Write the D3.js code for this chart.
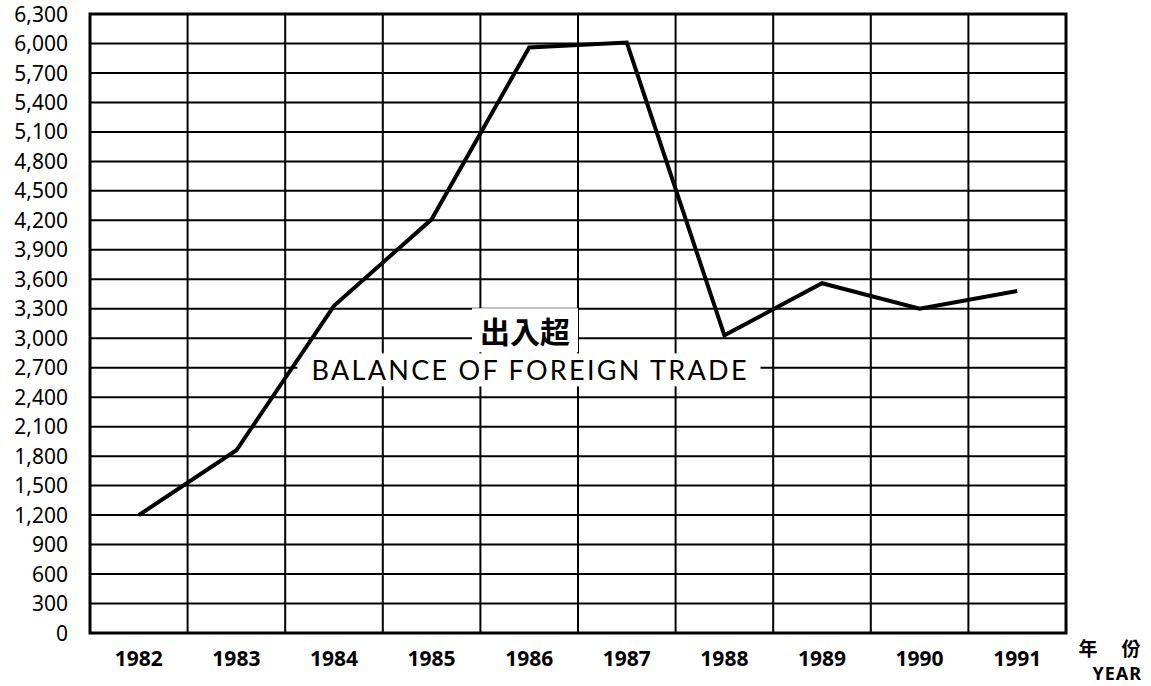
<!DOCTYPE html>
<html>
<head>
<meta charset="utf-8">
<script src="https://cdn.jsdelivr.net/npm/d3@7"></script>
<style>
  body { margin: 0; background: #fff; }
  svg { display: block; }
</style>
</head>
<body>
<div id="plot"></div>
<script>
// data
var years = ['1982', '1983', '1984', '1985', '1986', '1987', '1988', '1989', '1990', '1991'];
var balance = [1200, 1860, 3330, 4210, 5960, 6010, 3030, 3560, 3300, 3480];
var yTicks = d3.range(0, 6301, 300);
var titleZh = '出入超';
var titleEn = 'BALANCE OF FOREIGN TRADE';
var unitZh = ['年', '份'];
var unitEn = 'YEAR';

var svgwidth = 1151, svgheight = 686;
var plotLeft = 90, plotRight = 1066, plotTop = 14, plotBottom = 633;

var svg = d3.select('#plot').append('svg')
    .attr('width', svgwidth)
    .attr('height', svgheight);

var xScale = d3.scaleBand().domain(years).range([plotLeft, plotRight]);
var yScale = d3.scaleLinear().domain([0, 6300]).range([plotBottom, plotTop]);

// horizontal grid
svg.append('g').selectAll('line').data(yTicks).enter().append('line')
    .attr('x1', plotLeft).attr('x2', plotRight)
    .attr('y1', function(d){ return yScale(d); })
    .attr('y2', function(d){ return yScale(d); })
    .style('stroke', '#000').style('stroke-width', 2);

// vertical grid
var xEdges = years.map(function(d){ return xScale(d); }).concat([plotRight]);
svg.append('g').selectAll('line').data(xEdges).enter().append('line')
    .attr('x1', function(d){ return d; }).attr('x2', function(d){ return d; })
    .attr('y1', plotTop).attr('y2', plotBottom)
    .style('stroke', '#000').style('stroke-width', 2);

// frame
svg.append('rect')
    .attr('x', plotLeft).attr('y', plotTop)
    .attr('width', plotRight - plotLeft).attr('height', plotBottom - plotTop)
    .style('fill', 'none').style('stroke', '#000').style('stroke-width', 3);

// y tick labels
svg.append('g').selectAll('text').data(yTicks).enter().append('text')
    .attr('x', 68)
    .attr('y', function(d){ return yScale(d); })
    .attr('dy', '0.36em')
    .attr('text-anchor', 'end')
    .style('font-family', 'Noto Sans, sans-serif')
    .style('font-size', '21px')
    .text(function(d){ return d3.format(',')(d); });

// x labels
svg.append('g').selectAll('text').data(years).enter().append('text')
    .attr('x', function(d){ return xScale(d) + xScale.bandwidth() / 2; })
    .attr('y', 666)
    .attr('text-anchor', 'middle')
    .style('font-family', 'Noto Sans, sans-serif')
    .style('font-weight', 'bold')
    .style('font-size', '21px')
    .text(function(d){ return d; });

// unit label
svg.append('text').attr('x', 1088).attr('y', 656).attr('text-anchor', 'middle')
    .style('font-family', 'Noto Sans CJK TC').style('font-weight', 'bold').style('font-size', '19px')
    .text(unitZh[0]);
svg.append('text').attr('x', 1131).attr('y', 656).attr('text-anchor', 'middle')
    .style('font-family', 'Noto Sans CJK TC').style('font-weight', 'bold').style('font-size', '19px')
    .text(unitZh[1]);
svg.append('text').attr('x', 1142).attr('y', 680).attr('text-anchor', 'end')
    .style('font-family', 'Noto Sans, sans-serif').style('font-weight', 'bold').style('font-size', '18px')
    .style('letter-spacing', '1px')
    .text(unitEn);

// series labels sitting on the grid with white boxes
var labelGroup = svg.append('g');
var zh = labelGroup.append('text')
    .attr('x', 525).attr('y', yScale(3000) - 4)
    .attr('dy', '0.3em')
    .attr('text-anchor', 'middle')
    .style('font-family', 'Noto Sans CJK TC')
    .style('font-weight', 'bold')
    .style('font-size', '30px')
    .text(titleZh);
var en = labelGroup.append('text')
    .attr('x', 529).attr('y', yScale(2700) + 3)
    .attr('dy', '0.36em')
    .attr('text-anchor', 'middle')
    .attr('textLength', 435)
    .attr('lengthAdjust', 'spacing')
    .style('font-family', 'Lato, sans-serif')
    .style('font-size', '27px')
    .text(titleEn);

[[zh, 8, 0], [en, 14, 0]].forEach(function(p){
    var b = p[0].node().getBBox();
    labelGroup.insert('rect', 'text')
        .attr('x', b.x - p[1]).attr('y', b.y - p[2])
        .attr('width', b.width + 2 * p[1]).attr('height', b.height + 2 * p[2])
        .style('fill', '#fff');
});

// data line, drawn over everything
var line = d3.line()
    .x(function(d, i){ return xScale(years[i]) + xScale.bandwidth() / 2; })
    .y(function(d){ return yScale(d); });

svg.append('path')
    .datum(balance)
    .attr('d', line)
    .style('fill', 'none')
    .style('stroke', '#000')
    .style('stroke-width', 4)
    .style('stroke-linejoin', 'miter');
</script>
</body>
</html>
